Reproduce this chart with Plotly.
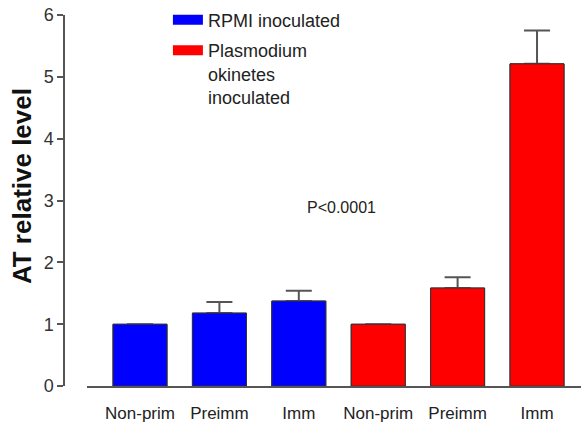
import plotly.graph_objects as go

categories = ["Non-prim", "Preimm", "Imm", "Non-prim", "Preimm", "Imm"]
series_names = ["RPMI inoculated", "Plasmodium<br>okinetes<br>inoculated"]
rpmi_means = [1.0, 1.18, 1.375]
rpmi_err = [0.0, 0.18, 0.165]
plasmo_means = [1.0, 1.585, 5.21]
plasmo_err = [0.0, 0.175, 0.54]
y_ticks = [0, 1, 2, 3, 4, 5, 6]
p_text = "P<0.0001"
y_title = "AT relative level"

FONT = "Arial, Liberation Sans, sans-serif"
BLUE, RED = "#0000FF", "#FF0000"
x_rpmi = [0, 1, 2]
x_plasmo = [3, 4, 5]

fig = go.Figure()
groups = [(x_rpmi, rpmi_means, rpmi_err, BLUE), (x_plasmo, plasmo_means, plasmo_err, RED)]
# bars carrying the (upward) error bars
for xs, ys, es, color in groups:
    fig.add_trace(go.Bar(
        x=xs, y=ys, width=0.68, showlegend=False,
        marker=dict(color=color, line=dict(color="#333333", width=1)),
        error_y=dict(type="data", array=es, arrayminus=[0] * len(es),
                     symmetric=False, color="#555555", thickness=2, width=13),
    ))
# same bars drawn again on top so only the upper whisker shows
for xs, ys, es, color in groups:
    fig.add_trace(go.Bar(
        x=xs, y=ys, width=0.68, showlegend=False, hoverinfo="skip",
        marker=dict(color=color, line=dict(color="#333333", width=1)),
    ))

# legend entries (wide swatches)
for i, (name, color) in enumerate(zip(series_names, [BLUE, RED])):
    fig.add_trace(go.Scatter(x=[None], y=[None], mode="lines", name=name,
                             legendgroup=f"g{i}",
                             line=dict(color=color, width=11)))

fig.add_annotation(x=2.54, y=2.895, text=p_text, showarrow=False,
                   font=dict(size=16, color="#222222", family=FONT))
fig.add_annotation(xref="paper", yref="paper", x=-0.0812, y=0.551,
                   text=f"<b>{y_title}</b>", textangle=-90, showarrow=False,
                   xanchor="center", yanchor="middle",
                   font=dict(size=26, color="#111111", family=FONT))

fig.update_layout(
    width=581, height=424,
    margin=dict(l=64, r=0, t=15, b=28),
    paper_bgcolor="white", plot_bgcolor="white",
    font=dict(family=FONT, color="#333333"),
    barmode="overlay",
    legend=dict(x=0.201, y=1.035, xanchor="left", yanchor="top",
                font=dict(size=18, color="#222222", family=FONT),
                valign="top", bgcolor="rgba(0,0,0,0)",
                traceorder="grouped", tracegroupgap=4, itemwidth=30),
    xaxis=dict(domain=[0.0445, 1], range=[-0.6675, 5.554], automargin=False,
               tickvals=list(range(len(categories))), ticktext=categories,
               showline=True, linecolor="#555555", linewidth=1.5,
               ticks="outside", ticklen=11, tickcolor="rgba(0,0,0,0)",
               showgrid=False, zeroline=False,
               tickfont=dict(size=17, color="#222222", family=FONT)),
    yaxis=dict(domain=[0.026, 1], range=[0, 6], anchor="free", position=0,
               automargin=False,
               tickvals=y_ticks, ticks="outside", ticklen=6, tickwidth=1.5,
               tickcolor="#555555", showline=True, linecolor="#555555",
               linewidth=1.5, showgrid=False, zeroline=False,
               tickfont=dict(size=18, color="#333333", family=FONT)),
)

fig.write_html("out.html", config={"displayModeBar": False},
               post_script="document.body.style.margin='0';document.body.style.overflow='hidden';")
